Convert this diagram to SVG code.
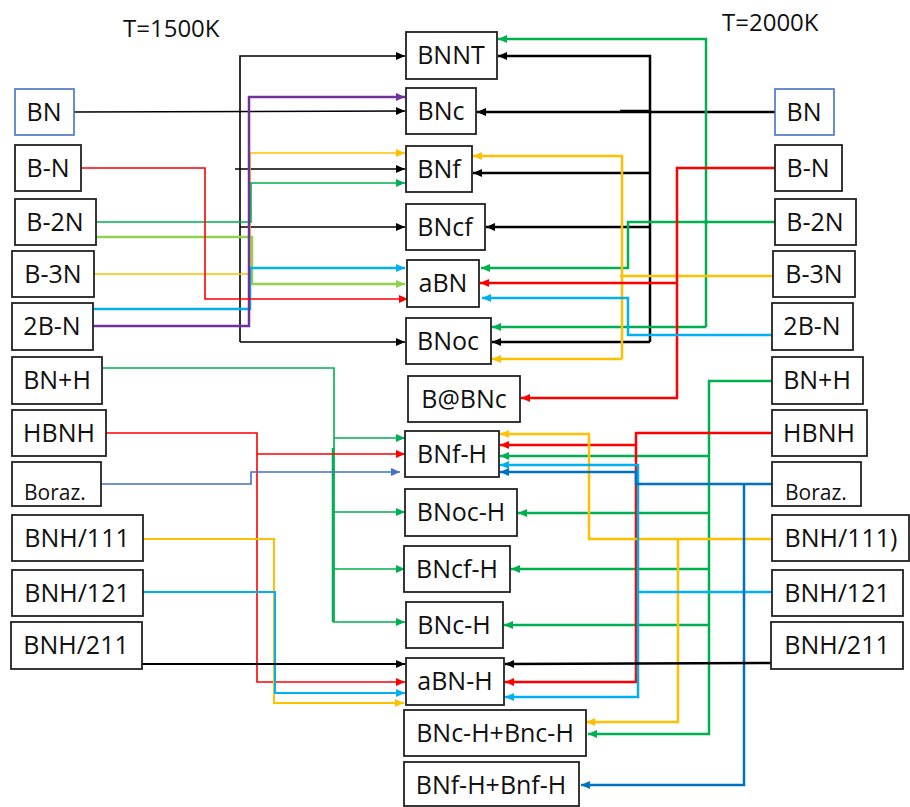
<svg xmlns="http://www.w3.org/2000/svg" width="910" height="807" viewBox="0 0 910 807">
<style>
.box{fill:#fff;stroke:#222;stroke-width:1.8}
.bbox{fill:#fff;stroke:#4472C4;stroke-width:1.6}
.lbl{font-family:"Open Sans","Liberation Sans",sans-serif;font-size:25px;fill:#111;text-anchor:middle}
.sm{font-family:"Open Sans","Liberation Sans",sans-serif;font-size:21px;fill:#111}
.ttl{font-family:"Open Sans","Liberation Sans",sans-serif;font-size:24px;fill:#111}
.c{fill:none;stroke-linejoin:miter}
.k{stroke:#000}.r{stroke:#FF0000}.g{stroke:#00B050}.lg{stroke:#92D050}.y{stroke:#FFC000}.lb{stroke:#00B0F0}.db{stroke:#0070C0}.p{stroke:#7030A0}.bl{stroke:#4472C4}
.t1{stroke-width:1.6}.t2{stroke-width:2.5}
</style>
<defs>
<marker id="ak" markerUnits="userSpaceOnUse" markerWidth="10" markerHeight="10" refX="9" refY="4" orient="auto"><path d="M0,0 L9,4 L0,8 z" fill="#000"/></marker>
<marker id="ar" markerUnits="userSpaceOnUse" markerWidth="10" markerHeight="10" refX="9" refY="4" orient="auto"><path d="M0,0 L9,4 L0,8 z" fill="#FF0000"/></marker>
<marker id="ag" markerUnits="userSpaceOnUse" markerWidth="10" markerHeight="10" refX="9" refY="4" orient="auto"><path d="M0,0 L9,4 L0,8 z" fill="#00B050"/></marker>
<marker id="alg" markerUnits="userSpaceOnUse" markerWidth="10" markerHeight="10" refX="9" refY="4" orient="auto"><path d="M0,0 L9,4 L0,8 z" fill="#92D050"/></marker>
<marker id="ay" markerUnits="userSpaceOnUse" markerWidth="10" markerHeight="10" refX="9" refY="4" orient="auto"><path d="M0,0 L9,4 L0,8 z" fill="#FFC000"/></marker>
<marker id="alb" markerUnits="userSpaceOnUse" markerWidth="10" markerHeight="10" refX="9" refY="4" orient="auto"><path d="M0,0 L9,4 L0,8 z" fill="#00B0F0"/></marker>
<marker id="adb" markerUnits="userSpaceOnUse" markerWidth="10" markerHeight="10" refX="9" refY="4" orient="auto"><path d="M0,0 L9,4 L0,8 z" fill="#0070C0"/></marker>
<marker id="ap" markerUnits="userSpaceOnUse" markerWidth="10" markerHeight="10" refX="9" refY="4" orient="auto"><path d="M0,0 L9,4 L0,8 z" fill="#7030A0"/></marker>
<marker id="abl" markerUnits="userSpaceOnUse" markerWidth="10" markerHeight="10" refX="9" refY="4" orient="auto"><path d="M0,0 L9,4 L0,8 z" fill="#4472C4"/></marker>
</defs>
<rect width="910" height="807" fill="#fff"/>
<text class="ttl" x="123" y="37">T=1500K</text>
<text class="ttl" x="722" y="31">T=2000K</text>

<g id="connectors">
<!-- left side -->
<path class="c k t1" d="M74,112 L405,111" marker-end="url(#ak)"/>
<path class="c k t1" d="M240,342 V56 H405" marker-end="url(#ak)"/>
<path class="c k t1" d="M240,342 H405" marker-end="url(#ak)"/>
<path class="c k t1" d="M240,227 H405" marker-end="url(#ak)"/>
<path class="c k t1" d="M235,169 H405" marker-end="url(#ak)"/>
<path class="c y t1" d="M94,274 H250 V153 H405" marker-end="url(#ay)"/>
<path class="c g t1" d="M96,222 H251 V183 H405" marker-end="url(#ag)"/>
<path class="c lg t2" d="M96,237 H252 V284 H405" marker-end="url(#alg)"/>
<path class="c lb t2" d="M93,309 H250 V268 H405" marker-end="url(#alb)"/>
<path class="c p t2" d="M93,326 H249 V97 H405" marker-end="url(#ap)"/>
<path class="c r t1" d="M81,168 H205 V299 H408" marker-end="url(#ar)"/>
<path class="c g t1" d="M102,368 H334 V622 H405" marker-end="url(#ag)"/>
<path class="c g t1" d="M334,438 H405" marker-end="url(#ag)"/>
<path class="c g t1" d="M334,512 H405" marker-end="url(#ag)"/>
<path class="c g t1" d="M334,569 H405" marker-end="url(#ag)"/>
<path class="c g" stroke-width="2.5" d="M333,448 V622"/>
<path class="c r t1" d="M106,433 H257 V454 H405" marker-end="url(#ar)"/>
<path class="c r t1" d="M257,454 V682 H405" marker-end="url(#ar)"/>
<path class="c bl t1" d="M101,484 H251 V472 H400" marker-end="url(#abl)"/>
<path class="c y" stroke-width="2" d="M143,539 H274 V703 H404" marker-end="url(#ay)"/>
<path class="c lb" stroke-width="2" d="M143,592 H275 V693 H405" marker-end="url(#alb)"/>
<path class="c k" stroke-width="2" d="M142,664 H405" marker-end="url(#ak)"/>
<!-- right side -->
<path class="c k t2" d="M775,112 H477" marker-end="url(#ak)"/>
<path class="c k t2" d="M620,111 H650"/>
<path class="c k t2" d="M650,342 V56 H498" marker-end="url(#ak)"/>
<path class="c k t2" d="M650,173 H473" marker-end="url(#ak)"/>
<path class="c k t2" d="M650,227 H486" marker-end="url(#ak)"/>
<path class="c k t2" d="M650,342 H492" marker-end="url(#ak)"/>
<path class="c g t2" d="M706,327 V39 H498" marker-end="url(#ag)"/>
<path class="c g t2" d="M706,327 H492" marker-end="url(#ag)"/>
<path class="c g t2" d="M775,222 H628 V268 H481" marker-end="url(#ag)"/>
<circle cx="706" cy="222" r="2" fill="#00B050"/>
<path class="c y t2" d="M773,276 H620"/>
<path class="c y t2" d="M622,359 V156 H473" marker-end="url(#ay)"/>
<path class="c y t2" d="M622,359 H492" marker-end="url(#ay)"/>
<path class="c r t2" d="M775,168 H677 V398 H521" marker-end="url(#ar)"/>
<path class="c r t2" d="M677,283 H480" marker-end="url(#ar)"/>
<path class="c lb t2" d="M772,335 H628 V298 H482" marker-end="url(#alb)"/>
<path class="c g t2" d="M772,381 H709 V734 H588" marker-end="url(#ag)"/>
<path class="c g t2" d="M709,456 H500" marker-end="url(#ag)"/>
<path class="c g t2" d="M709,513 H518" marker-end="url(#ag)"/>
<path class="c g t2" d="M709,569 H511" marker-end="url(#ag)"/>
<path class="c g t2" d="M709,625 H504" marker-end="url(#ag)"/>
<path class="c r t2" d="M772,433 H636 V682 H505" marker-end="url(#ar)"/>
<path class="c r t2" d="M636,445 H500" marker-end="url(#ar)"/>
<path class="c y t2" d="M772,539 H589 V434 H500" marker-end="url(#ay)"/>
<path class="c y t2" d="M678,539 V722 H586" marker-end="url(#ay)"/>
<path class="c lb t2" d="M772,592 H638 V697 H505" marker-end="url(#alb)"/>
<path class="c lb t2" d="M638,592 V465 H500" marker-end="url(#alb)"/>
<path class="c db t2" d="M772,484 H636 V472 H500" marker-end="url(#adb)"/>
<path class="c db t2" d="M744,484 V785 H581" marker-end="url(#adb)"/>
<path class="c k t2" d="M771,663 L505,664" marker-end="url(#ak)"/>
</g>

<!-- left nodes -->
<g id="L_BN"><rect class="bbox" x="15" y="89" width="59" height="46"/><text class="lbl" x="44" y="121">BN</text></g>
<g id="L_B-N"><rect class="box" x="15" y="145" width="66" height="46"/><text class="lbl" x="48" y="177">B-N</text></g>
<g id="L_B-2N"><rect class="box" x="15" y="199" width="81" height="46"/><text class="lbl" x="55" y="231">B-2N</text></g>
<g id="L_B-3N"><rect class="box" x="12" y="251" width="82" height="46"/><text class="lbl" x="53" y="283">B-3N</text></g>
<g id="L_2B-N"><rect class="box" x="12" y="303" width="81" height="47"/><text class="lbl" x="52" y="335">2B-N</text></g>
<g id="L_BNpH"><rect class="box" x="12" y="357" width="90" height="47"/><text class="lbl" x="57" y="389">BN+H</text></g>
<g id="L_HBNH"><rect class="box" x="12" y="410" width="94" height="46"/><text class="lbl" x="59" y="442">HBNH</text></g>
<g id="L_Boraz"><rect class="box" x="12" y="462" width="89" height="44"/><text class="sm" x="24" y="500">Boraz.</text></g>
<g id="L_BNH111"><rect class="box" x="12" y="515" width="131" height="46"/><text class="lbl" x="77" y="547">BNH/111</text></g>
<g id="L_BNH121"><rect class="box" x="12" y="570" width="131" height="46"/><text class="lbl" x="77" y="602">BNH/121</text></g>
<g id="L_BNH211"><rect class="box" x="11" y="622" width="131" height="47"/><text class="lbl" x="76" y="654">BNH/211</text></g>

<!-- right nodes -->
<g id="R_BN"><rect class="bbox" x="775" y="89" width="59" height="46"/><text class="lbl" x="804" y="121">BN</text></g>
<g id="R_B-N"><rect class="box" x="775" y="145" width="67" height="46"/><text class="lbl" x="808" y="177">B-N</text></g>
<g id="R_B-2N"><rect class="box" x="775" y="199" width="81" height="46"/><text class="lbl" x="815" y="231">B-2N</text></g>
<g id="R_B-3N"><rect class="box" x="773" y="251" width="82" height="46"/><text class="lbl" x="814" y="283">B-3N</text></g>
<g id="R_2B-N"><rect class="box" x="772" y="303" width="81" height="47"/><text class="lbl" x="812" y="335">2B-N</text></g>
<g id="R_BNpH"><rect class="box" x="772" y="357" width="91" height="47"/><text class="lbl" x="817" y="389">BN+H</text></g>
<g id="R_HBNH"><rect class="box" x="772" y="410" width="95" height="46"/><text class="lbl" x="819" y="442">HBNH</text></g>
<g id="R_Boraz"><rect class="box" x="772" y="462" width="89" height="44"/><text class="sm" x="785" y="500">Boraz.</text></g>
<g id="R_BNH111"><rect class="box" x="772" y="515" width="137" height="46"/><text class="lbl" x="841" y="547">BNH/111)</text></g>
<g id="R_BNH121"><rect class="box" x="772" y="570" width="131" height="46"/><text class="lbl" x="837" y="602">BNH/121</text></g>
<g id="R_BNH211"><rect class="box" x="771" y="622" width="132" height="47"/><text class="lbl" x="837" y="654">BNH/211</text></g>

<!-- center nodes -->
<g id="BNNT"><rect class="box" x="406" y="32" width="91" height="47"/><text class="lbl" x="451" y="64">BNNT</text></g>
<g id="BNc"><rect class="box" x="406" y="88" width="70" height="46"/><text class="lbl" x="441" y="120">BNc</text></g>
<g id="BNf"><rect class="box" x="406" y="146" width="66" height="46"/><text class="lbl" x="439" y="178">BNf</text></g>
<g id="BNcf"><rect class="box" x="406" y="204" width="79" height="46"/><text class="lbl" x="445" y="236">BNcf</text></g>
<g id="aBN"><rect class="box" x="407" y="260" width="72" height="47"/><text class="lbl" x="443" y="292">aBN</text></g>
<g id="BNoc"><rect class="box" x="406" y="318" width="85" height="46"/><text class="lbl" x="448" y="350">BNoc</text></g>
<g id="B_BNc"><rect class="box" x="408" y="376" width="112" height="46"/><text class="lbl" x="464" y="408">B@BNc</text></g>
<g id="BNf-H"><rect class="box" x="405" y="431" width="94" height="46"/><text class="lbl" x="452" y="463">BNf-H</text></g>
<g id="BNoc-H"><rect class="box" x="405" y="489" width="112" height="47"/><text class="lbl" x="461" y="521">BNoc-H</text></g>
<g id="BNcf-H"><rect class="box" x="404" y="546" width="106" height="46"/><text class="lbl" x="457" y="578">BNcf-H</text></g>
<g id="BNc-H"><rect class="box" x="406" y="602" width="97" height="46"/><text class="lbl" x="454" y="634">BNc-H</text></g>
<g id="aBN-H"><rect class="box" x="406" y="658" width="98" height="47"/><text class="lbl" x="455" y="690">aBN-H</text></g>
<g id="BNc-H_Bnc-H"><rect class="box" x="404" y="710" width="182" height="46"/><text class="lbl" x="495" y="742">BNc-H+Bnc-H</text></g>
<g id="BNf-H_Bnf-H"><rect class="box" x="404" y="762" width="175" height="44"/><text class="lbl" x="491" y="794">BNf-H+Bnf-H</text></g>
</svg>
